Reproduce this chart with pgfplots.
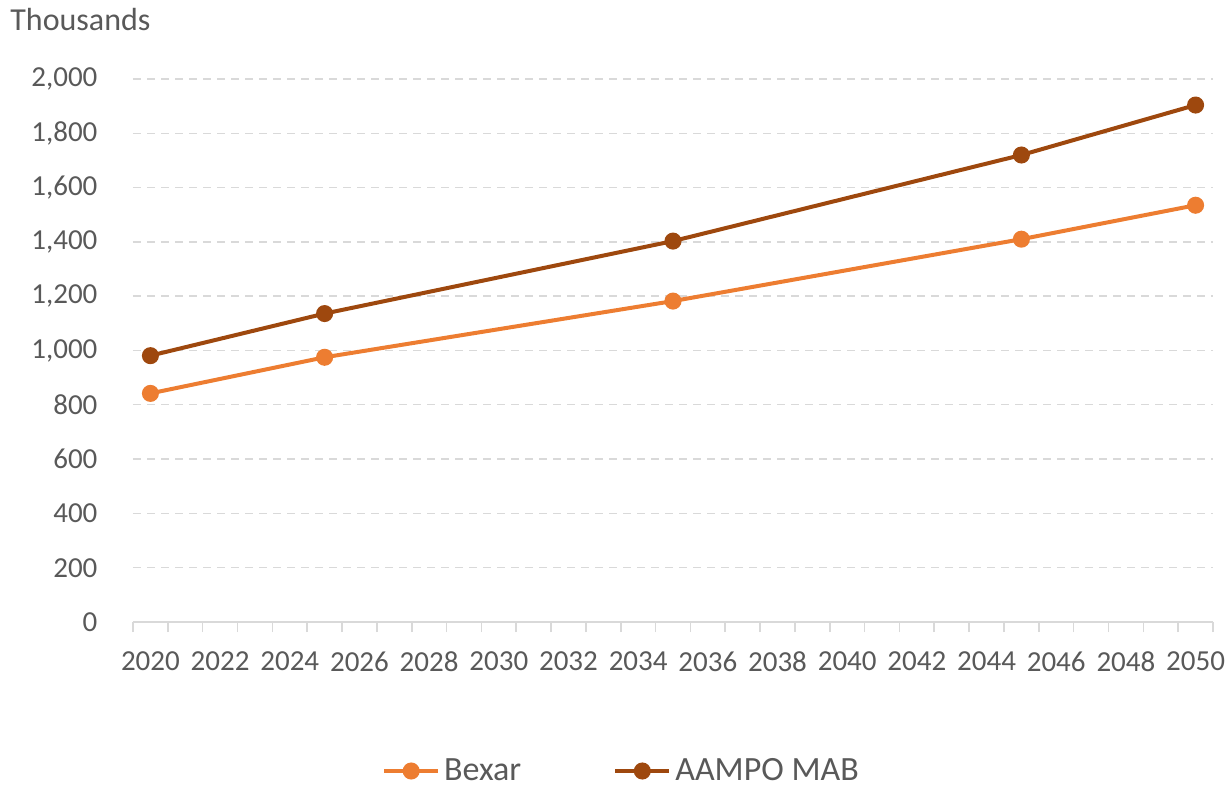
\documentclass[border=0pt]{standalone}
\usepackage{pgfplots}
\pgfplotsset{compat=1.18}
\usepackage{fontspec}
\setmainfont{Carlito}
\definecolor{txt}{HTML}{595959}
\definecolor{gridc}{HTML}{D9D9D9}
\definecolor{bexar}{HTML}{ED7D31}
\definecolor{aampo}{HTML}{9E480E}
\begin{document}
\begin{tikzpicture}[x=1pt,y=1pt]
\useasboundingbox (-66.5,-82) rectangle (548,311);
\begin{axis}[
  at={(0,0)}, anchor=south west,
  scale only axis, width=540pt, height=271.5pt,
  xmin=2019.5, xmax=2050.5, ymin=0, ymax=2000,
  separate axis lines,
  axis x line*=bottom, axis y line*=left,
  x axis line style={draw=gridc, line width=0.8pt, -},
  y axis line style={draw=none},
  xtick={2020,2022,...,2050},
  minor xtick={2019.5,2020.5,...,2050.5},
  major x tick style={draw=none},
  minor x tick style={draw=gridc, line width=0.8pt},
  minor tick length=5pt,
  tick align=outside,
  ytick={0,200,...,2000},
  major y tick style={draw=none},
  ymajorgrids,
  major grid style={draw=gridc, dashed, dash pattern=on 4pt off 3pt, line width=0.7pt},
  /pgf/number format/assume math mode=true,
  tick label style={font=\fontsize{14.5}{16}\selectfont, text=txt},
  yticklabel style={/pgf/number format/1000 sep={,}, xshift=-10pt},
  xticklabel style={/pgf/number format/1000 sep={}, yshift=-7pt},
  legend columns=2,
  legend style={at={(0.4532,-0.2744)}, anchor=center, draw=none, fill=none,
    font=\fontsize{17}{19}\selectfont, text=txt,
    /tikz/every even column/.append style={column sep=44pt}},
  legend image code/.code={
    \draw[#1, mark=none, line width=2pt] (0pt,0pt) -- (27pt,0pt);
    \fill[#1] (13.5pt,0pt) circle (3.25pt);
  },
]
\addplot[bexar, line width=2pt, mark=*, mark size=3.25pt, mark options={fill=bexar, draw=bexar}]
  coordinates {(2020,842) (2025,975) (2035,1182) (2045,1410) (2050,1535)};
\addlegendentry{Bexar}
\addplot[aampo, line width=2pt, mark=*, mark size=3.25pt, mark options={fill=aampo, draw=aampo}]
  coordinates {(2020,981) (2025,1136) (2035,1403) (2045,1720) (2050,1904)};
\addlegendentry{AAMPO MAB}
\end{axis}
\node[anchor=west, text=txt, font=\fontsize{16}{18}\selectfont, inner sep=0pt] at (-61.5,301) {Thousands};
\end{tikzpicture}
\end{document}
